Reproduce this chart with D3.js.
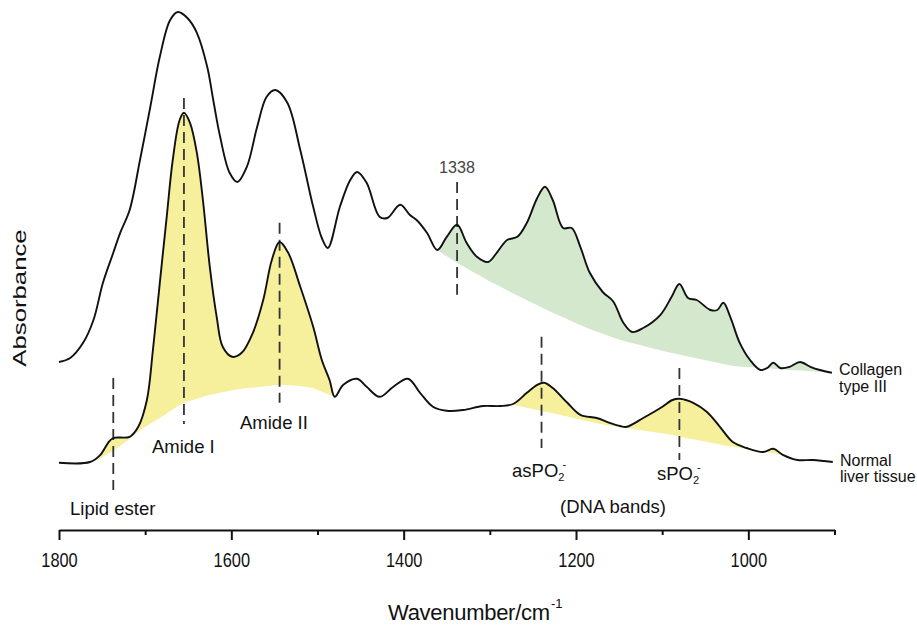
<!DOCTYPE html>
<html>
<head>
<meta charset="utf-8">
<script src="https://cdn.jsdelivr.net/npm/d3@7"></script>
<style>
  body { margin: 0; background: #fff; }
  svg { display: block; font-family: "Liberation Sans", Arial, sans-serif; }
</style>
</head>
<body>
<div id="chart"></div>
<script>
// collagen type III spectrum (wavenumber cm-1, absorbance a.u.)
var collagenWavenumber = [1800, 1787, 1772, 1760, 1749, 1737, 1729, 1718, 1706, 1694, 1683, 1671, 1662, 1651, 1640,
  1628, 1621, 1613, 1602, 1593, 1582, 1570, 1559, 1549, 1535, 1520, 1505, 1495, 1488, 1474, 1462, 1454, 1443, 1428,
  1419, 1404, 1393, 1385, 1373, 1361, 1350, 1338, 1327, 1315, 1302, 1292, 1280, 1268, 1257, 1245, 1236, 1227, 1215,
  1205, 1195, 1184, 1169, 1157, 1145, 1135, 1122, 1102, 1089, 1080, 1070, 1060, 1044, 1036, 1029, 1021, 1010, 998,
  986, 978, 971, 963, 952, 940, 928, 917, 903];
var collagenAbsorbance = [0.345, 0.355, 0.393, 0.45, 0.543, 0.618, 0.668, 0.725, 0.85, 0.983, 1.108, 1.2, 1.22, 1.205, 1.168,
  1.083, 1.0, 0.908, 0.818, 0.795, 0.833, 0.933, 1.008, 1.025, 0.993, 0.875, 0.733, 0.655, 0.63, 0.733, 0.8, 0.82, 0.793, 0.708,
  0.705, 0.738, 0.713, 0.7, 0.668, 0.625, 0.658, 0.688, 0.643, 0.608, 0.595, 0.618, 0.65, 0.658, 0.693, 0.755, 0.783, 0.75, 0.68,
  0.68, 0.633, 0.568, 0.52, 0.497, 0.443, 0.42, 0.43, 0.463, 0.508, 0.54, 0.505, 0.5, 0.475, 0.475, 0.493, 0.458, 0.393, 0.35,
  0.325, 0.33, 0.343, 0.33, 0.333, 0.345, 0.333, 0.325, 0.318];

// normal liver tissue spectrum
var liverWavenumber = [1800, 1764, 1752, 1743, 1737, 1718, 1708, 1698, 1691, 1683, 1675, 1668, 1660, 1655, 1648, 1640,
  1633, 1625, 1617, 1610, 1599, 1588, 1575, 1563, 1553, 1544, 1534, 1520, 1505, 1495, 1486, 1480, 1470, 1454, 1443,
  1428, 1412, 1395, 1381, 1366, 1350, 1331, 1308, 1288, 1273, 1257, 1245, 1237, 1227, 1210, 1195, 1176, 1161, 1149,
  1141, 1122, 1102, 1088, 1080, 1064, 1048, 1033, 1018, 1002, 983, 971, 960, 943, 925, 902];
var liverAbsorbance = [0.093, 0.095, 0.113, 0.143, 0.155, 0.158, 0.183, 0.25, 0.375, 0.543, 0.708, 0.85, 0.95, 0.968, 0.943, 0.868,
  0.75, 0.583, 0.458, 0.383, 0.358, 0.368, 0.418, 0.5, 0.6, 0.645, 0.618, 0.533, 0.433, 0.35, 0.3, 0.258, 0.288, 0.303, 0.283,
  0.258, 0.283, 0.303, 0.268, 0.233, 0.223, 0.225, 0.235, 0.235, 0.24, 0.268, 0.288, 0.293, 0.28, 0.243, 0.213, 0.205, 0.193, 0.185,
  0.183, 0.205, 0.23, 0.25, 0.253, 0.243, 0.22, 0.183, 0.145, 0.13, 0.12, 0.128, 0.113, 0.1, 0.1, 0.095];

// baselines under the shaded bands
var collagenBaseWavenumber = [1361, 1338, 1303, 1265, 1227, 1187, 1149, 1094, 1018, 903];
var collagenBaseAbsorbance = [0.625, 0.593, 0.55, 0.508, 0.468, 0.43, 0.40, 0.37, 0.335, 0.318];
var amideBaseWavenumber = [1758, 1729, 1706, 1683, 1656, 1625, 1590, 1544, 1509, 1480];
var amideBaseAbsorbance = [0.097, 0.133, 0.175, 0.205, 0.243, 0.263, 0.278, 0.288, 0.283, 0.258];
var dnaBaseWavenumber = [1273, 1219, 1172, 1141, 1094, 1056, 1018, 960];
var dnaBaseAbsorbance = [0.238, 0.213, 0.19, 0.18, 0.165, 0.148, 0.133, 0.113];

// band markers
var markerWavenumber = [1737, 1655, 1544, 1338, 1240, 1080];
var markerTop = [0.305, 1.005, 0.693, 0.795, 0.408, 0.33];
var markerBottom = [0.025, 0.19, 0.243, 0.513, 0.13, 0.10];

var majorTicks = [1800, 1600, 1400, 1200, 1000];
var minorTicks = [1700, 1500, 1300, 1100, 900];

var width = 917, height = 627;
var svg = d3.select("#chart").append("svg")
  .attr("width", width)
  .attr("height", height);

var x = d3.scaleLinear().domain([1800, 900]).range([59, 834.5]);
var y = d3.scaleLinear().domain([0, 1.25]).range([500, 0]);

function zip(ws, as) {
  return ws.map(function(w, i) { return {w: w, a: as[i]}; });
}
var collagen = zip(collagenWavenumber, collagenAbsorbance);
var liver = zip(liverWavenumber, liverAbsorbance);

var smooth = d3.curveCatmullRom.alpha(0.5);

// shaded band between spectrum and its baseline
function band(data, baseW, baseA, color) {
  var base = d3.scaleLinear().domain(baseW).range(baseA).clamp(true);
  var lo = d3.min(baseW), hi = d3.max(baseW);
  var pts = data.filter(function(d) { return d.w <= hi && d.w >= lo; });
  pts = [{w: hi, a: base(hi)}].concat(pts, [{w: lo, a: base(lo)}]);
  var area = d3.area()
    .curve(smooth)
    .x(function(d) { return x(d.w); })
    .y0(function(d) { return y(base(d.w)); })
    .y1(function(d) { return y(Math.max(d.a, base(d.w))); });
  svg.append("path")
    .datum(pts)
    .attr("fill", color)
    .attr("stroke", "none")
    .attr("d", area);
}

band(collagen, collagenBaseWavenumber, collagenBaseAbsorbance, "#d3e8cc");
band(liver, amideBaseWavenumber, amideBaseAbsorbance, "#f6ef9c");
band(liver, dnaBaseWavenumber, dnaBaseAbsorbance, "#f6ef9c");

// dashed band markers
svg.append("g")
  .selectAll("line")
  .data(markerWavenumber)
  .enter()
  .append("line")
  .attr("x1", function(d) { return x(d); })
  .attr("x2", function(d) { return x(d); })
  .attr("y1", function(d, i) { return y(markerTop[i]); })
  .attr("y2", function(d, i) { return y(markerBottom[i]); })
  .attr("stroke", "#333")
  .attr("stroke-width", 1.8)
  .attr("stroke-dasharray", "11,6");

var line = d3.line()
  .curve(smooth)
  .x(function(d) { return x(d.w); })
  .y(function(d) { return y(d.a); });

[collagen, liver].forEach(function(series) {
  svg.append("path")
    .datum(series)
    .attr("fill", "none")
    .attr("stroke", "#111")
    .attr("stroke-width", 1.9)
    .attr("stroke-linejoin", "round")
    .attr("d", line);
});

// x axis
var axisY = 530;
var xAxis = d3.axisBottom(x).tickValues(majorTicks).tickSize(10).tickSizeOuter(0)
  .tickFormat(d3.format("d"));
var gx = svg.append("g")
  .attr("transform", "translate(0," + axisY + ")")
  .call(xAxis);
gx.select(".domain").attr("stroke", "#111").attr("stroke-width", 2);
gx.selectAll(".tick line").attr("stroke", "#111").attr("stroke-width", 2);
gx.selectAll(".tick text")
  .attr("y", 23)
  .attr("fill", "#111")
  .attr("font-size", 20)
  .attr("font-family", "Liberation Sans, Arial, sans-serif")
  .attr("transform", "scale(0.82,1)");

var gxMinor = svg.append("g")
  .attr("transform", "translate(0," + axisY + ")")
  .call(d3.axisBottom(x).tickValues(minorTicks).tickSize(5).tickSizeOuter(0).tickFormat(""));
gxMinor.select(".domain").remove();
gxMinor.selectAll(".tick line").attr("stroke", "#111").attr("stroke-width", 2);

// axis titles
var xt = svg.append("text")
  .attr("x", 388)
  .attr("y", 620)
  .attr("font-size", 22)
  .attr("fill", "#111")
  .attr("textLength", 162);
xt.text("Wavenumber/cm");
svg.append("text")
  .attr("x", 551)
  .attr("y", 608)
  .attr("font-size", 13)
  .attr("fill", "#111")
  .text("-1");

svg.append("text")
  .attr("transform", "translate(26,298) rotate(-90) scale(1.03,0.7)")
  .attr("text-anchor", "middle")
  .attr("font-size", 25)
  .attr("fill", "#111")
  .text("Absorbance");

// annotations
function label(px, py, str, size, anchor) {
  return svg.append("text")
    .attr("x", px)
    .attr("y", py)
    .attr("font-size", size || 18)
    .attr("text-anchor", anchor || "start")
    .attr("fill", "#111")
    .text(str);
}

label(70, 515, "Lipid ester", 18.5);
label(152, 453, "Amide I", 18.5);
label(240, 429, "Amide II", 18.5);
label(x(1338), 173, "1338", 17, "middle").attr("fill", "#444").attr("transform", "translate(" + (x(1338) * 0.05) + ",0) scale(0.95,1)");
label(613, 513, "(DNA bands)", 18.5, "middle");

function phosphate(px, py, prefix) {
  var t = label(px, py, prefix, 18.5);
  t.append("tspan").attr("font-size", 11).attr("dy", 4).text("2");
  t.append("tspan").attr("font-size", 11).attr("dx", -2).attr("dy", -13).text("-");
}
phosphate(512, 477, "asPO");
phosphate(657, 480, "sPO");

label(839, 375, "Collagen", 16);
label(839, 392, "type III", 16);
label(840, 466, "Normal", 16);
label(840, 482, "liver tissue", 16);
</script>
</body>
</html>
